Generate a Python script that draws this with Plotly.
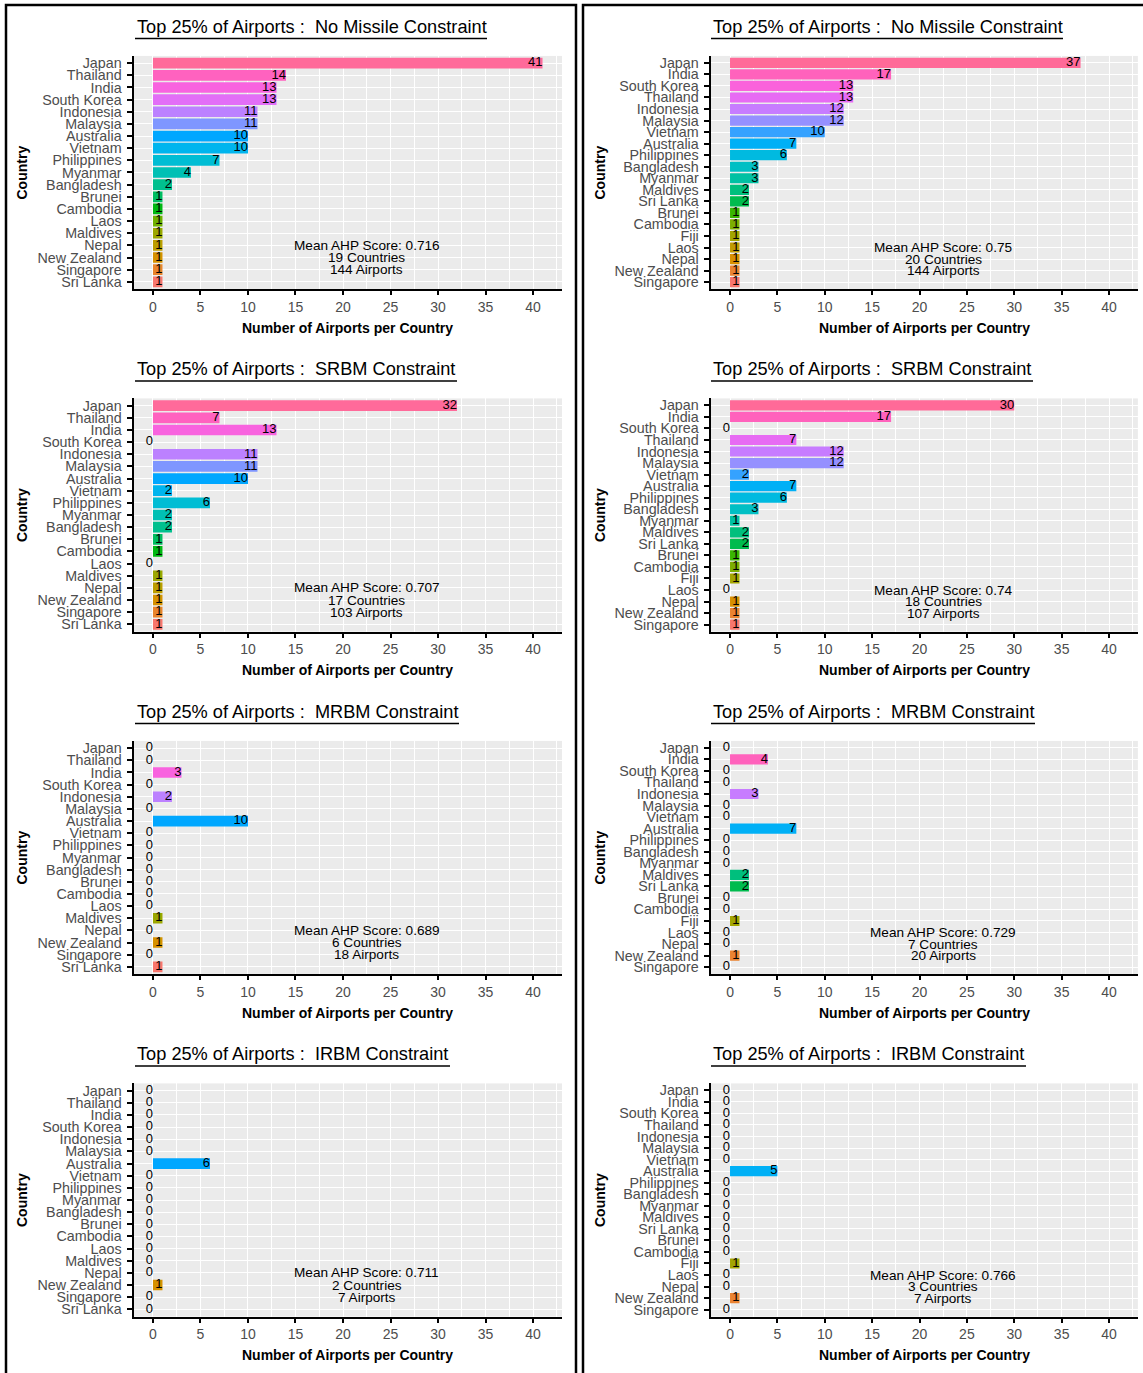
import math
import plotly.graph_objects as go

W, H = 1143, 1373
FONT = "Liberation Sans, Arial, sans-serif"

# ---------------- data ----------------
countries_left = ["Japan", "Thailand", "India", "South Korea", "Indonesia", "Malaysia",
                  "Australia", "Vietnam", "Philippines", "Myanmar", "Bangladesh", "Brunei",
                  "Cambodia", "Laos", "Maldives", "Nepal", "New Zealand", "Singapore", "Sri Lanka"]
countries_right = ["Japan", "India", "South Korea", "Thailand", "Indonesia", "Malaysia",
                   "Vietnam", "Australia", "Philippines", "Bangladesh", "Myanmar", "Maldives",
                   "Sri Lanka", "Brunei", "Cambodia", "Fiji", "Laos", "Nepal", "New Zealand",
                   "Singapore"]

constraints = ["No Missile", "SRBM", "MRBM", "IRBM"]

left_no_missile = [41, 14, 13, 13, 11, 11, 10, 10, 7, 4, 2, 1, 1, 1, 1, 1, 1, 1, 1]
left_srbm = [32, 7, 13, 0, 11, 11, 10, 2, 6, 2, 2, 1, 1, 0, 1, 1, 1, 1, 1]
left_mrbm = [0, 0, 3, 0, 2, 0, 10, 0, 0, 0, 0, 0, 0, 0, 1, 0, 1, 0, 1]
left_irbm = [0, 0, 0, 0, 0, 0, 6, 0, 0, 0, 0, 0, 0, 0, 0, 0, 1, 0, 0]

right_no_missile = [37, 17, 13, 13, 12, 12, 10, 7, 6, 3, 3, 2, 2, 1, 1, 1, 1, 1, 1, 1]
right_srbm = [30, 17, 0, 7, 12, 12, 2, 7, 6, 3, 1, 2, 2, 1, 1, 1, 0, 1, 1, 1]
right_mrbm = [0, 4, 0, 0, 3, 0, 0, 7, 0, 0, 0, 2, 2, 0, 0, 1, 0, 0, 1, 0]
right_irbm = [0, 0, 0, 0, 0, 0, 0, 5, 0, 0, 0, 0, 0, 0, 0, 1, 0, 0, 1, 0]

mean_ahp_left = ["0.716", "0.707", "0.689", "0.711"]
mean_ahp_right = ["0.75", "0.74", "0.729", "0.766"]

x_ticks = [0, 5, 10, 15, 20, 25, 30, 35, 40]

columns = [
    dict(countries=countries_left,
         series=[left_no_missile, left_srbm, left_mrbm, left_irbm],
         ahp=mean_ahp_left),
    dict(countries=countries_right,
         series=[right_no_missile, right_srbm, right_mrbm, right_irbm],
         ahp=mean_ahp_right),
]


# ---------------- ggplot hue palette ----------------
def hcl_to_hex(h, c=100.0, l=65.0):
    Xn, Yn, Zn = 95.047, 100.0, 108.883
    hr = math.radians(h)
    U = c * math.cos(hr)
    V = c * math.sin(hr)
    if l > 8:
        Y = Yn * ((l + 16) / 116) ** 3
    else:
        Y = Yn * l / 903.3
    den = Xn + 15 * Yn + 3 * Zn
    un = 4 * Xn / den
    vn = 9 * Yn / den
    up = U / (13 * l) + un
    vp = V / (13 * l) + vn
    X = 9.0 * Y * up / (4 * vp)
    Z = -X / 3 - 5 * Y + 3 * Y / vp
    X, Y, Z = X / 100, Y / 100, Z / 100
    r = 3.240479 * X - 1.537150 * Y - 0.498535 * Z
    g = -0.969256 * X + 1.875992 * Y + 0.041556 * Z
    b = 0.055648 * X - 0.204043 * Y + 1.057311 * Z

    def gam(v):
        v = 12.92 * v if v <= 0.0031308 else 1.055 * v ** (1 / 2.4) - 0.055
        return int(round(min(max(v, 0), 1) * 255))

    return "#%02X%02X%02X" % (gam(r), gam(g), gam(b))


def hue_pal(n):
    return [hcl_to_hex(15 + 360.0 * i / n) for i in range(n)]


# ---------------- layout geometry ----------------
col_x = [(133.5, 562.0), (710.6, 1137.9)]      # plot area x (px)
title_x = [135, 711]
ytitle_x = [22, 600]
panel_top0, panel_bot0 = 55, 288.5
step = 343
underline_w = [352, 322, 324, 315]

fig = go.Figure()
layout = dict(
    width=W, height=H, autosize=False,
    margin=dict(l=0, r=0, t=0, b=0),
    paper_bgcolor="white", plot_bgcolor="#EBEBEB",
    showlegend=False,
    font=dict(family=FONT, color="black"),
    annotations=[], shapes=[],
)


def px_x(v):
    return v / W


def px_y(v):
    return 1 - v / H


for c, col in enumerate(columns):
    countries = col["countries"]
    n = len(countries)
    pal = hue_pal(n)
    pos = [n - 1 - i for i in range(n)]           # Japan at top
    colors = [pal[p] for p in pos]
    for k, vals in enumerate(col["series"]):
        idx = k * 2 + c + 1
        xr = "x" if idx == 1 else f"x{idx}"
        yr = "y" if idx == 1 else f"y{idx}"
        xk = "xaxis" if idx == 1 else f"xaxis{idx}"
        yk = "yaxis" if idx == 1 else f"yaxis{idx}"

        fig.add_trace(go.Bar(
            x=vals, y=pos, orientation="h", width=0.88,
            marker=dict(color=colors, line=dict(width=0)),
            xaxis=xr, yaxis=yr, hoverinfo="skip"))
        fig.add_trace(go.Scatter(
            x=vals, y=pos, mode="text", text=[str(v) for v in vals],
            textposition="middle left",
            textfont=dict(size=13, color="black", family=FONT),
            xaxis=xr, yaxis=yr, hoverinfo="skip"))

        top = panel_top0 + step * k
        bot = panel_bot0 + step * k
        x0, x1 = col_x[c]
        layout[xk] = dict(
            domain=[px_x(x0), px_x(x1)], anchor=yr,
            range=[-2.05, 43.05], tickmode="array", tickvals=x_ticks,
            ticktext=[str(t) for t in x_ticks],
            showgrid=True, gridcolor="white", gridwidth=1.3,
            minor=dict(tickmode="linear", tick0=2.5, dtick=5, showgrid=True,
                       gridcolor="white", gridwidth=0.6, ticks=""),
            zeroline=False, showline=True, linecolor="black", linewidth=2,
            ticks="outside", ticklen=4, tickwidth=1.5, tickcolor="black",
            tickfont=dict(size=14, color="#4D4D4D", family=FONT),
            fixedrange=True)
        layout[yk] = dict(
            domain=[px_y(bot), px_y(top)], anchor=xr,
            range=[-0.6, n - 0.4], tickmode="array", tickvals=pos,
            ticktext=countries,
            showgrid=True, gridcolor="white", gridwidth=1.3,
            zeroline=False, showline=True, linecolor="black", linewidth=2,
            ticks="outside", ticklen=5, tickwidth=1.5, tickcolor="black",
            ticklabelstandoff=2,
            tickfont=dict(size=14.3, color="#4D4D4D", family=FONT),
            fixedrange=True)

        # title + underline
        ty = 26 + step * k
        layout["annotations"].append(dict(
            xref="paper", yref="paper", x=px_x(title_x[c]), y=px_y(ty),
            xanchor="left", yanchor="middle", showarrow=False,
            text=f"Top 25% of Airports :\u00a0 {constraints[k]} Constraint",
            font=dict(size=18.2, color="black", family=FONT)))
        layout["shapes"].append(dict(
            type="line", xref="paper", yref="paper",
            x0=px_x(title_x[c]), x1=px_x(title_x[c] + underline_w[k]),
            y0=px_y(37.5 + step * k), y1=px_y(37.5 + step * k),
            line=dict(color="black", width=1.6)))

        # axis titles
        layout["annotations"].append(dict(
            xref="paper", yref="paper", x=px_x((x0 + x1) / 2), y=px_y(327 + step * k),
            xanchor="center", yanchor="middle", showarrow=False,
            text="<b>Number of Airports per Country</b>",
            font=dict(size=14, color="black", family=FONT)))
        layout["annotations"].append(dict(
            xref="paper", yref="paper", x=px_x(ytitle_x[c]), y=px_y((top + bot) / 2),
            xanchor="center", yanchor="middle", showarrow=False, textangle=-90,
            text="<b>Country</b>",
            font=dict(size=14, color="black", family=FONT)))

        # summary text
        n_countries = sum(1 for v in vals if v > 0)
        n_airports = sum(vals)
        lines = [f"Mean AHP Score: {col['ahp'][k]}",
                 f"{n_countries} Countries",
                 f"{n_airports} Airports"]
        for j, line in enumerate(lines):
            layout["annotations"].append(dict(
                xref=xr, yref=yr, x=22.5, y=3 - j,
                xanchor="center", yanchor="middle", showarrow=False,
                text=line, font=dict(size=13.6, color="black", family=FONT)))

# frames around each column
layout["shapes"].append(dict(type="rect", xref="paper", yref="paper",
                             x0=px_x(6), x1=px_x(576), y0=px_y(4), y1=px_y(1400),
                             line=dict(color="black", width=2.5)))
layout["shapes"].append(dict(type="rect", xref="paper", yref="paper",
                             x0=px_x(583), x1=px_x(1160), y0=px_y(4), y1=px_y(1400),
                             line=dict(color="black", width=2.5)))

fig.update_layout(**layout)
fig.write_html(
    "out.html",
    config={"displayModeBar": False},
    post_script="document.documentElement.style.margin='0';"
                "document.body.style.margin='0';"
                "document.body.style.overflow='hidden';",
)
